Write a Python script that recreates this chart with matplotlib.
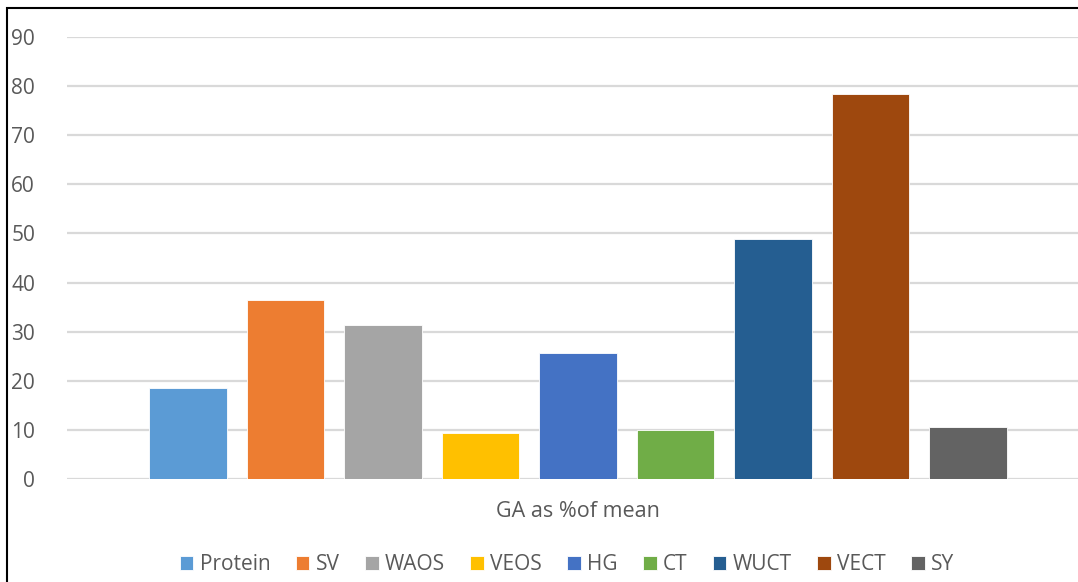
import matplotlib
matplotlib.use("Agg")
import matplotlib.pyplot as plt
from matplotlib.patches import Rectangle

series = ["Protein", "SV", "WAOS", "VEOS", "HG", "CT", "WUCT", "VECT", "SY"]
values = [18.5, 36.5, 31.3, 9.4, 25.6, 10.0, 48.8, 78.3, 10.6]
colors = ["#5B9BD5", "#ED7D31", "#A5A5A5", "#FFC000", "#4472C4",
          "#70AD47", "#255E91", "#9E480E", "#636363"]
category = "GA as %of mean"
yticks = [0, 10, 20, 30, 40, 50, 60, 70, 80, 90]

plt.rcParams['font.family'] = ['Open Sans', 'DejaVu Sans']
W, H = 1078, 582
fig = plt.figure(figsize=(W / 100, H / 100), dpi=100)
ax = fig.add_axes([67 / W, 1 - 479 / H, (1078 - 67) / W, (479 - 37) / H])

for i, (s, v, c) in enumerate(zip(series, values, colors)):
    ax.bar(i, v, width=0.79, color=c, label=s, zorder=3,
           edgecolor="white", linewidth=0.6)

ax.set_ylim(0, 90)
ax.set_xlim((67 - 188) / 97.5, (1078 - 188) / 97.5)
ax.set_yticks(yticks)
ax.set_yticklabels([str(t) for t in yticks], fontsize=15, color="#595959")
ax.set_xticks([4])
ax.set_xticklabels([category], fontsize=15.5, color="#595959")
ax.tick_params(axis="y", length=0, pad=23)
ax.tick_params(axis="x", length=0, pad=16)
ax.grid(axis="y", color="#D9D9D9", linewidth=1.6, zorder=0)
for sp in ax.spines.values():
    sp.set_visible(False)

leg = fig.legend(loc="center", bbox_to_anchor=(567 / W, 1 - 565 / H), ncol=9,
                 frameon=False, fontsize=15, handlelength=0.65, handleheight=0.65,
                 handletextpad=0.3, columnspacing=1.22, labelcolor="#595959")

fig.patches.append(Rectangle((7 / W, -0.1), 1.2, 1.1 - 8 / H, transform=fig.transFigure,
                             fill=False, edgecolor="black", linewidth=1.5))

fig.savefig("out.png", dpi=100)
